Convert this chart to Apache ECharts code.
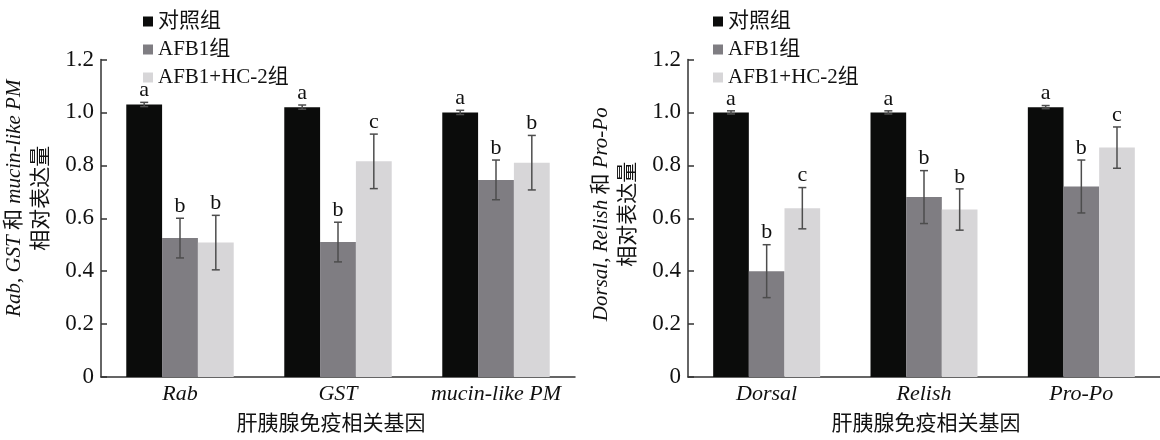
<!DOCTYPE html>
<html>
<head>
<meta charset="utf-8">
<script src="https://cdn.jsdelivr.net/npm/echarts@6/dist/echarts.min.js"></script>
<style>
  html, body { margin: 0; padding: 0; background: #fff; }
  #main { width: 1160px; height: 440px; }
</style>
</head>
<body>
<div id="main"></div>
<script>
const groups = ["对照组", "AFB1组", "AFB1+HC-2组"];
const genesA = ["Rab", "GST", "mucin-like PM"];
const genesB = ["Dorsal", "Relish", "Pro-Po"];

// left panel
const ctrlA = [1.03, 1.02, 1.0];
const ctrlErrA = [0.008, 0.008, 0.008];
const ctrlSigA = ["a", "a", "a"];
const afbA = [0.525, 0.51, 0.745];
const afbErrA = [0.075, 0.075, 0.075];
const afbSigA = ["b", "b", "b"];
const hcA = [0.508, 0.815, 0.81];
const hcErrA = [0.103, 0.103, 0.103];
const hcSigA = ["b", "c", "b"];

// right panel
const ctrlB = [1.0, 1.0, 1.02];
const ctrlErrB = [0.006, 0.006, 0.006];
const ctrlSigB = ["a", "a", "a"];
const afbB = [0.40, 0.68, 0.72];
const afbErrB = [0.10, 0.10, 0.10];
const afbSigB = ["b", "b", "b"];
const hcB = [0.638, 0.633, 0.867];
const hcErrB = [0.078, 0.078, 0.078];
const hcSigB = ["c", "b", "c"];

const colors = ["#0b0c0b", "#7f7d82", "#d7d6d8"];
const serif = "'Liberation Serif', 'Noto Sans CJK SC', serif";
const catGap = 0.32;

function barSeries(name, values, k, gi) {
  return {
    name: name,
    type: "bar",
    xAxisIndex: gi,
    yAxisIndex: gi,
    barGap: "0%",
    barCategoryGap: catGap * 100 + "%",
    itemStyle: { color: colors[k] },
    data: values,
  };
}

function errSeries(values, errs, sigs, k, gi) {
  return {
    type: "custom",
    xAxisIndex: gi,
    yAxisIndex: gi,
    z: 5,
    silent: true,
    data: values.map((v, i) => [i, v, errs[i]]),
    renderItem: function (params, api) {
      const i = api.value(0);
      const v = api.value(1);
      const e = api.value(2);
      const bw = (api.size([1, 0])[0] * (1 - catGap)) / 3;
      const off = (k - 1) * bw;
      const hi = api.coord([i, v + e]);
      const lo = api.coord([i, v - e]);
      const x = hi[0] + off;
      const st = { stroke: "#4d4d4d", lineWidth: 1.5 };
      return {
        type: "group",
        children: [
          { type: "line", shape: { x1: x, y1: hi[1], x2: x, y2: lo[1] }, style: st },
          { type: "line", shape: { x1: x - 4, y1: hi[1], x2: x + 4, y2: hi[1] }, style: st },
          { type: "line", shape: { x1: x - 4, y1: lo[1], x2: x + 4, y2: lo[1] }, style: st },
          {
            type: "text",
            style: {
              x: x,
              y: hi[1] - 1,
              text: sigs[i],
              fill: "#111",
              font: "22px " + serif,
              align: "center",
              verticalAlign: "bottom",
            },
          },
        ],
      };
    },
  };
}

const axisLine = { show: true, lineStyle: { color: "#333", width: 1.5 } };

function xAxis(genes, gi, pad) {
  return {
    type: "category",
    gridIndex: gi,
    data: genes,
    axisLine: axisLine,
    axisTick: { inside: true, length: 6, lineStyle: { color: "#333", width: 1.5 } },
    axisLabel: {
      interval: 0,
      hideOverlap: false,
      margin: 6,
      fontFamily: serif,
      fontSize: 22,
      fontStyle: "italic",
      color: "#111",
    },
    name: "肝胰腺免疫相关基因",
    nameLocation: "middle",
    nameGap: 37,
    nameTextStyle: {
      fontFamily: serif,
      fontSize: 21,
      color: "#111",
      padding: pad,
    },
  };
}

function yAxis(nameStr, gi, pad) {
  return {
    type: "value",
    gridIndex: gi,
    min: 0,
    max: 1.2,
    interval: 0.2,
    splitLine: { show: false },
    axisLine: axisLine,
    axisTick: { show: true, inside: true, length: 6, lineStyle: { color: "#333", width: 1.5 } },
    axisLabel: {
      margin: 7,
      fontFamily: serif,
      fontSize: 23,
      color: "#111",
      formatter: (v) => (v === 0 ? "0" : v.toFixed(1)),
    },
    name: nameStr,
    nameLocation: "middle",
    nameRotate: 90,
    nameGap: 46,
    nameTextStyle: {
      fontFamily: serif,
      fontSize: 21,
      lineHeight: 27,
      color: "#111",
      padding: pad,
      rich: {
        i: { fontFamily: serif, fontSize: 21, lineHeight: 27, fontStyle: "italic", color: "#111" },
        n: { fontFamily: serif, fontSize: 21, lineHeight: 27, color: "#111" },
      },
    },
  };
}

function legend(left) {
  return {
    data: groups,
    orient: "vertical",
    left: left,
    top: 11,
    padding: 0,
    itemWidth: 10,
    itemHeight: 10,
    itemGap: 7,
    icon: "rect",
    textStyle: { fontFamily: serif, fontSize: 21, color: "#111" },
  };
}

const option = {
  animation: false,
  legend: [legend(143), legend(713)],
  grid: [
    { left: 98, top: 59.5, width: 477, height: 322 },
    { left: 688, top: 59.5, width: 477, height: 322 },
  ],
  xAxis: [xAxis(genesA, 0, [0, 14, 0, 0]), xAxis(genesB, 1, [0, 0, 0, 4])],
  yAxis: [
    yAxis("{i|Rab}{n|, }{i|GST}{n| 和 }{i|mucin-like PM}\n{n|相对表达量}", 0, [0, 0, 0, 40]),
    yAxis("{i|Dorsal}{n|, }{i|Relish}{n| 和 }{i|Pro-Po}\n{n|相对表达量}", 1, [0, 0, 0, 8]),
  ],
  series: [
    barSeries(groups[0], ctrlA, 0, 0),
    barSeries(groups[1], afbA, 1, 0),
    barSeries(groups[2], hcA, 2, 0),
    barSeries(groups[0], ctrlB, 0, 1),
    barSeries(groups[1], afbB, 1, 1),
    barSeries(groups[2], hcB, 2, 1),
    errSeries(ctrlA, ctrlErrA, ctrlSigA, 0, 0),
    errSeries(afbA, afbErrA, afbSigA, 1, 0),
    errSeries(hcA, hcErrA, hcSigA, 2, 0),
    errSeries(ctrlB, ctrlErrB, ctrlSigB, 0, 1),
    errSeries(afbB, afbErrB, afbSigB, 1, 1),
    errSeries(hcB, hcErrB, hcSigB, 2, 1),
  ],
};

const myChart = echarts.init(document.getElementById("main"));
myChart.setOption(option);
</script>
</body>
</html>
